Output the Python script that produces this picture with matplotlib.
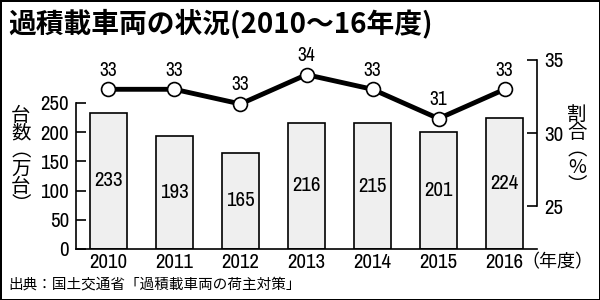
import matplotlib
matplotlib.use("Agg")
import matplotlib.pyplot as plt
from matplotlib import font_manager

# pick a condensed latin face if one is installed
names = sorted({f.name for f in font_manager.fontManager.ttflist})
narrow = [n for n in names if 'Narrow' in n or 'Condensed' in n]
plt.rcParams['font.family'] = narrow[:1] + ['Noto Sans CJK JP', 'DejaVu Sans']
cjk = ['Noto Sans CJK JP', 'DejaVu Sans']

years = ['2010', '2011', '2012', '2013', '2014', '2015', '2016']
counts = [233, 193, 165, 216, 215, 201, 224]
ratio = [33.0, 33.0, 32.0, 34.0, 33.0, 31.0, 33.0]
ratio_labels = ['33', '33', '33', '34', '33', '31', '33']

title = '過積載車両の状況(2010～16年度)'
source = '出典：国土交通省「過積載車両の荷主対策」'

W, H = 600, 300
fig = plt.figure(figsize=(6, 3), dpi=100)
fig.patch.set_facecolor('white')
fig.patch.set_edgecolor('black')
fig.patch.set_linewidth(2)

# axes box in pixels
x0, x1, y0, y1 = 76, 537, 249, 50
ax = fig.add_axes([x0 / W, 1 - y0 / H, (x1 - x0) / W, (y0 - y1) / H])
ax.patch.set_alpha(0)

px_per_unit = (249 - 103) / 250
ax.set_ylim(0, (y0 - y1) / px_per_unit)
ax.set_xlim(-0.49, 6.49)

xs = range(len(years))
ax.bar(xs, counts, width=0.56, color='#efefef', edgecolor='black', linewidth=1.2)
for x, v in zip(xs, counts):
    ax.text(x, v / 2, str(v), ha='center', va='center', fontsize=15)

for s in ['top', 'right']:
    ax.spines[s].set_visible(False)
ax.spines['left'].set_bounds(0, 250)
ax.spines['left'].set_linewidth(1.2)
ax.spines['bottom'].set_linewidth(1.2)
ax.set_yticks([0, 50, 100, 150, 200, 250])
ax.tick_params(axis='y', direction='in', length=7, width=1.2, labelsize=15, pad=5)
ax.set_xticks(list(xs))
ax.set_xticklabels(years)
ax.tick_params(axis='x', length=0, labelsize=15, pad=3)
fig.text(521 / W, 1 - 262 / H, '（年度）', ha='left', va='center', fontsize=13,
         family=cjk)

# right axis
ax2 = ax.twinx()
r_px = (206.5 - 60) / 10
ax2.set_ylim(35 - (y0 - 60) / r_px, 35 + (60 - y1) / r_px)
for s in ['top', 'left', 'bottom']:
    ax2.spines[s].set_visible(False)
ax2.spines['right'].set_bounds(25, 35)
ax2.spines['right'].set_linewidth(1.2)
ax2.set_yticks([25, 30, 35])
ax2.tick_params(axis='y', direction='in', length=7, width=1.2, labelsize=15, pad=5)

ax2.plot(xs, ratio, color='black', linewidth=3.5, marker='o', markersize=10,
         markerfacecolor='white', markeredgecolor='black', markeredgewidth=1.2,
         zorder=5, clip_on=False)
for x, v, lab in zip(xs, ratio, ratio_labels):
    ax2.annotate(lab, (x, v), xytext=(0, 7), textcoords='offset points',
                 ha='center', va='bottom', fontsize=14)

# vertical axis titles
fig.text(21 / W, 1 - 160 / H, '台\n数\n︵\n万\n台\n︶', ha='center', va='center',
         fontsize=14, linespacing=0.8, family=cjk)
fig.text(577 / W, 1 - 150 / H, '割\n合\n︵\n%\n︶', ha='center', va='center',
         fontsize=14, linespacing=0.8, family=cjk)

fig.text(8 / W, 1 - 23 / H, title, ha='left', va='center', fontsize=20,
         fontweight='bold', family=cjk)
fig.text(8 / W, 1 - 285 / H, source, ha='left', va='center', fontsize=10.5,
         family=cjk)

fig.savefig('out.png', dpi=100, facecolor=fig.get_facecolor(),
            edgecolor=fig.get_edgecolor())
